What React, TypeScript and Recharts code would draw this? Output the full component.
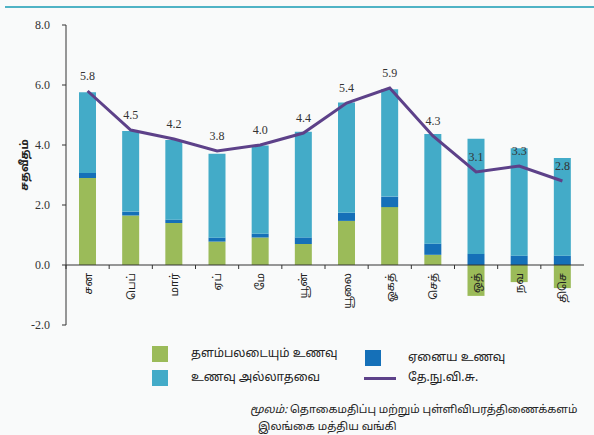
import { Bar, ComposedChart, LabelList, Line, ReferenceLine, XAxis, YAxis } from "recharts";

const months = ["சன", "பெப்", "மார்", "ஏப்", "மே", "யூன்", "யூலை", "ஓகத்", "செத்", "ஒத்", "நவ", "திசெ"];
const volatileFood = [2.9, 1.65, 1.4, 0.78, 0.92, 0.7, 1.47, 1.93, 0.34, -1.03, -0.57, -0.77];
const otherFood = [0.17, 0.13, 0.11, 0.13, 0.12, 0.22, 0.27, 0.35, 0.37, 0.37, 0.31, 0.31];
const nonFood = [2.69, 2.69, 2.66, 2.8, 2.94, 3.52, 3.68, 3.58, 3.66, 3.84, 3.58, 3.26];
const ncpi = [5.8, 4.5, 4.2, 3.8, 4.0, 4.4, 5.4, 5.9, 4.3, 3.1, 3.3, 2.8];
const yTicks = [-2, 0, 2, 4, 6, 8];

const GREEN = "#9bbb59";
const DARK = "#1570b8";
const LIGHT = "#43abc8";
const PURPLE = "#5d4189";

const W = 594;
const H = 340;
const M = { top: 25, right: 10, left: 0, bottom: 0 };
const Y_W = 66;
const X_H = 15;
const PLOT_H = H - M.top - M.bottom - X_H;
const BAND = (W - M.left - M.right - Y_W) / months.length;
const ZERO_Y = M.top + (PLOT_H * yTicks[yTicks.length - 1]) / (yTicks[yTicks.length - 1] - yTicks[0]);

const data = months.map((m, i) => ({
  m,
  vol: volatileFood[i],
  oth: otherFood[i],
  non: nonFood[i],
  cpi: ncpi[i],
}));

const serif = "'Liberation Serif', 'DejaVu Serif', serif";
const sans = "'Noto Sans Tamil', 'Lohit Tamil', 'FreeSans', 'Noto Sans', 'DejaVu Sans', sans-serif";

// month labels hang under the zero line, ticks sit on category boundaries
function MonthTick(props: any) {
  const { x, payload } = props;
  const left = x - BAND / 2;
  return (
    <g>
      <line x1={left} x2={left} y1={ZERO_Y} y2={ZERO_Y + 4} stroke="#333" />
      <text
        x={x + 4}
        y={ZERO_Y + 8}
        transform={`rotate(-90, ${x + 4}, ${ZERO_Y + 8})`}
        textAnchor="end"
        fontSize={11}
        fontFamily={sans}
        fill="#222"
      >
        {payload.value}
      </text>
    </g>
  );
}

const legendItems = [
  { label: "தளம்பலடையும் உணவு", color: GREEN, kind: "box", x: 152, y: 346 },
  { label: "ஏனைய உணவு", color: DARK, kind: "box", x: 365, y: 350 },
  { label: "உணவு அல்லாதவை", color: LIGHT, kind: "box", x: 152, y: 370 },
  { label: "தே.நு.வி.சு.", color: PURPLE, kind: "line", x: 364, y: 370 },
];

export default function App() {
  return (
    <div
      style={{
        position: "absolute",
        left: 0,
        top: 0,
        width: W,
        height: 435,
        background: "#f9fafa",
        overflow: "hidden",
      }}
    >
      <div style={{ position: "absolute", left: 5, top: 6, width: W - 5, height: 2, background: "#4fb3c5" }} />
      <ComposedChart width={W} height={H} data={data} margin={M} stackOffset="sign">
        <XAxis dataKey="m" height={X_H} axisLine={false} tickLine={false} interval={0} tick={<MonthTick />} />
        <YAxis
          width={Y_W}
          domain={[yTicks[0], yTicks[yTicks.length - 1]]}
          ticks={yTicks}
          tickFormatter={(v) => Number(v).toFixed(1)}
          tickSize={4}
          tickMargin={12}
          stroke="#333"
          tick={{ fill: "#333", fontSize: 12, fontFamily: serif }}
          label={{
            content: ({ viewBox }: any) => (
              <text
                x={viewBox.x + 28}
                y={viewBox.y + viewBox.height / 2 - 10}
                transform={`rotate(-90, ${viewBox.x + 28}, ${viewBox.y + viewBox.height / 2 - 10})`}
                textAnchor="middle"
                fontSize={11}
                fontWeight="bold"
                fontFamily={sans}
                fill="#222"
              >
                சதவீதம்
              </text>
            ),
          }}
        />
        <ReferenceLine y={0} stroke="#333" />
        <Bar dataKey="vol" stackId="a" fill={GREEN} barSize={17} isAnimationActive={false} />
        <Bar dataKey="oth" stackId="a" fill={DARK} barSize={17} isAnimationActive={false} />
        <Bar dataKey="non" stackId="a" fill={LIGHT} barSize={17} isAnimationActive={false} />
        <Line dataKey="cpi" stroke={PURPLE} strokeWidth={3} dot={false} isAnimationActive={false}>
          <LabelList
            dataKey="cpi"
            position="top"
            offset={11}
            formatter={(v: any) => Number(v).toFixed(1)}
            fill="#333"
            fontSize={12}
            fontFamily={serif}
          />
        </Line>
      </ComposedChart>

      {legendItems.map((it) => (
        <div key={it.label}>
          {it.kind === "box" ? (
            <div style={{ position: "absolute", left: it.x, top: it.y, width: 16, height: 16, background: it.color }} />
          ) : (
            <div style={{ position: "absolute", left: it.x, top: it.y + 7, width: 32, height: 3, background: it.color }} />
          )}
          <div
            style={{
              position: "absolute",
              left: it.kind === "box" && it.x < 300 ? 191 : 408,
              top: it.y,
              lineHeight: "16px",
              fontSize: 12,
              fontFamily: sans,
              color: "#222",
              whiteSpace: "nowrap",
            }}
          >
            {it.label}
          </div>
        </div>
      ))}

      <div
        style={{
          position: "absolute",
          left: 250,
          top: 402,
          fontSize: 11,
          lineHeight: "16px",
          fontFamily: sans,
          color: "#222",
          whiteSpace: "nowrap",
        }}
      >
        <span style={{ fontStyle: "italic" }}>மூலம்:</span> தொகைமதிப்பு மற்றும் புள்ளிவிபரத்திணைக்களம்
      </div>
      <div
        style={{
          position: "absolute",
          left: 258,
          top: 419,
          fontSize: 11,
          lineHeight: "16px",
          fontFamily: sans,
          color: "#222",
          whiteSpace: "nowrap",
        }}
      >
        இலங்கை மத்திய வங்கி
      </div>
    </div>
  );
}
